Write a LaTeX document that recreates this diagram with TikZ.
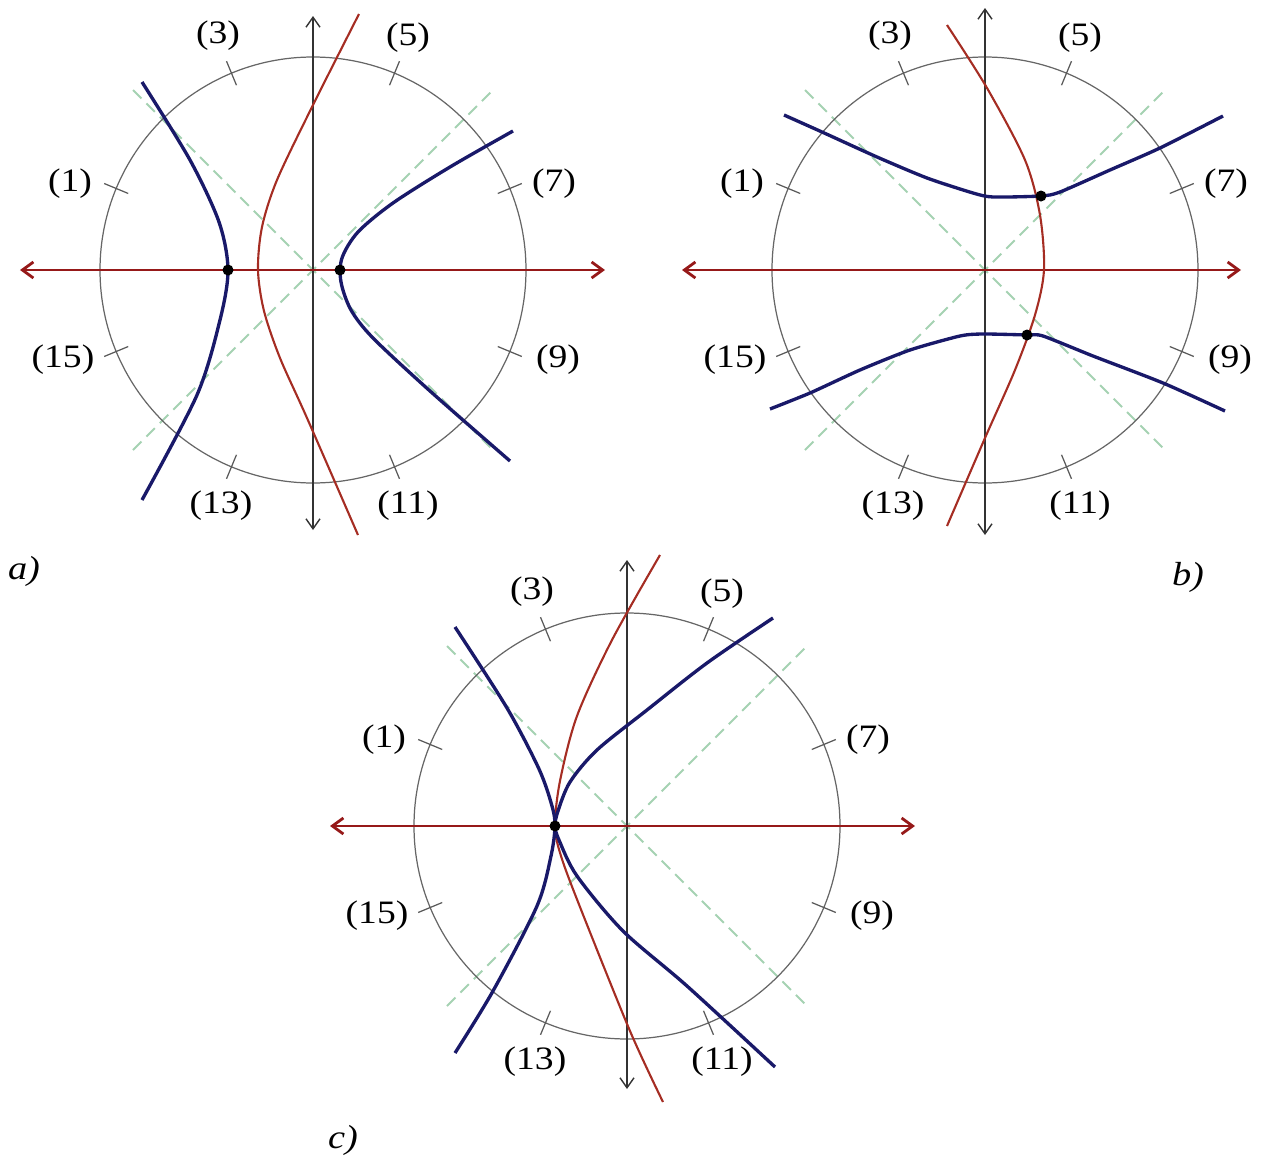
\documentclass[tikz,border=0pt]{standalone}
\usepackage{fontspec}
\setmainfont{Liberation Serif}[FakeStretch=1.15]
\usepackage{tikz}
\usetikzlibrary{arrows.meta}
\definecolor{navyline}{RGB}{25,25,105}
\definecolor{rustline}{RGB}{165,45,35}
\definecolor{axisred}{RGB}{150,25,25}
\definecolor{asymgreen}{RGB}{165,210,178}
\tikzset{
  dial/.style     ={draw=black!60, line width=0.35pt},
  dialtick/.style ={black!65, line width=0.35pt},
  vaxis/.style    ={{Straight Barb[length=1mm,width=1.4mm]}-{Straight Barb[length=1mm,width=1.4mm]},
                    line width=0.4pt, black!80},
  haxis/.style    ={{Straight Barb[length=1.1mm,width=1.6mm]}-{Straight Barb[length=1.1mm,width=1.6mm]},
                    line width=0.8pt, axisred},
  asym/.style     ={asymgreen, dash pattern=on 3.4pt off 2pt, line width=0.6pt},
  bluecurve/.style={navyline, line width=0.95pt},
  redcurve/.style ={rustline, line width=0.6pt},
  sdot/.style     ={circle, fill=black, inner sep=0pt, minimum size=1.1mm},
  numlbl/.style   ={font=\fontsize{9.3}{11}\selectfont},
  panellbl/.style ={font=\fontsize{9.5}{11}\selectfont\itshape},
}
\begin{document}
\begin{tikzpicture}[x=0.1mm, y=0.1mm]
  \useasboundingbox (0,0) rectangle (1262,1158);
  % ---- the dial shared by the three panels
  \foreach \pn/\cx/\cy/\hl/\hr/\vb/\vt in
      {a/313/888/-293/292/-260/254, b/985/888/-303/256/-265/262,
       c/627/332/-297/288/-263/266}{
  \begin{scope}[shift={(\cx,\cy)}]
    \draw[asym] (-180,-180) -- (182,182);
    \draw[asym] (-180,180) -- (182,-182);
    \draw[dial] (0,0) circle (213);
    \foreach \k in {1,3,...,15}
      \draw[dialtick] ({180-22.5*\k}:200) -- ({180-22.5*\k}:226);
    \foreach \k/\lx/\ly in {1/-243/86, 3/-95/234, 5/95/232, 7/241/86,
                            9/245/-90, 11/95/-236, 13/-92/-236, 15/-250/-90}
      \node[numlbl] (\pn l\k) at (\lx,\ly) {(\k)};
    \coordinate (\pn S) at (0,\vb);
    \coordinate (\pn N) at (0,\vt);
    \coordinate (\pn W) at (\hl,0);
    \coordinate (\pn E) at (\hr,0);
    \draw[vaxis] (\pn S) -- (\pn N);
    \draw[haxis] (\pn W) -- (\pn E);
  \end{scope}}
  % ---- a) two real points, red curve between them
  \begin{scope}[shift={(313,888)}]
  \draw[redcurve] plot[smooth] coordinates {(46,256) (-1,163) (-36,90)
    (-51,43) (-55,0) (-49,-41) (-33,-88) (-6,-148) (45,-265)};
  \draw[bluecurve] plot[smooth] coordinates {(-171,188) (-123,110)
    (-94,48) (-85,0) (-93,-50) (-116,-125) (-171,-230)};
  \draw[bluecurve] plot[smooth] coordinates {(200,139) (137,103) (80,67)
    (45,38) (29,12) (28,-12) (38,-40) (60,-68) (117,-121) (197,-191)};
  \node[sdot] (aP) at (-85,0) {};
  \node[sdot] (aQ) at (27,0) {};
  \end{scope}
  \node[panellbl] (aname) at (24,587) {a)};
  % ---- b) branches above and below the axis
  \begin{scope}[shift={(985,888)}]
  \draw[redcurve] plot[smooth] coordinates {(-38,245) (2,182) (40,110)
    (55,55) (59,0) (50,-45) (30,-100) (0,-168) (-38,-256)};
  \draw[bluecurve] plot[smooth, tension=0.4] coordinates {(-201,155) (-163,138)
    (-108,113) (-58,92) (-12,77) (8,73) (56,74) (75,78) (125,100) (175,122) (238,154)};
  \draw[bluecurve] plot[smooth, tension=0.4] coordinates {(-215,-139) (-175,-123)
    (-125,-100) (-75,-80) (-25,-66) (-2,-64) (42,-65) (58,-66) (108,-86) (178,-113) (240,-141)};
  \node[sdot] (bP) at (56,74) {};
  \node[sdot] (bQ) at (42,-65) {};
  \end{scope}
  \node[panellbl] (bname) at (1188,581) {b)};
  % ---- c) the two points merged into one
  \begin{scope}[shift={(627,332)}]
  \draw[redcurve] plot[smooth] coordinates {(33,271) (-15,186) (-50,110)
    (-67,45) (-72,0) (-66,-30) (-47,-81) (3,-205) (36,-276)};
  \draw[bluecurve] plot[smooth] coordinates {(-172,199) (-120,118) (-88,57)
    (-75,20) (-72,0) (-76,-30) (-90,-80) (-134,-165) (-172,-227)};
  \draw[bluecurve] plot[smooth] coordinates {(146,208) (80,163) (20,116)
    (-30,76) (-57,44) (-69,15) (-72,0) (-68,-14) (-50,-50) (-4,-105) (60,-160) (148,-241)};
  \node[sdot] (cP) at (-72,0) {};
  \end{scope}
  \node[panellbl] (cname) at (343,18) {c)};
\end{tikzpicture}
\end{document}
